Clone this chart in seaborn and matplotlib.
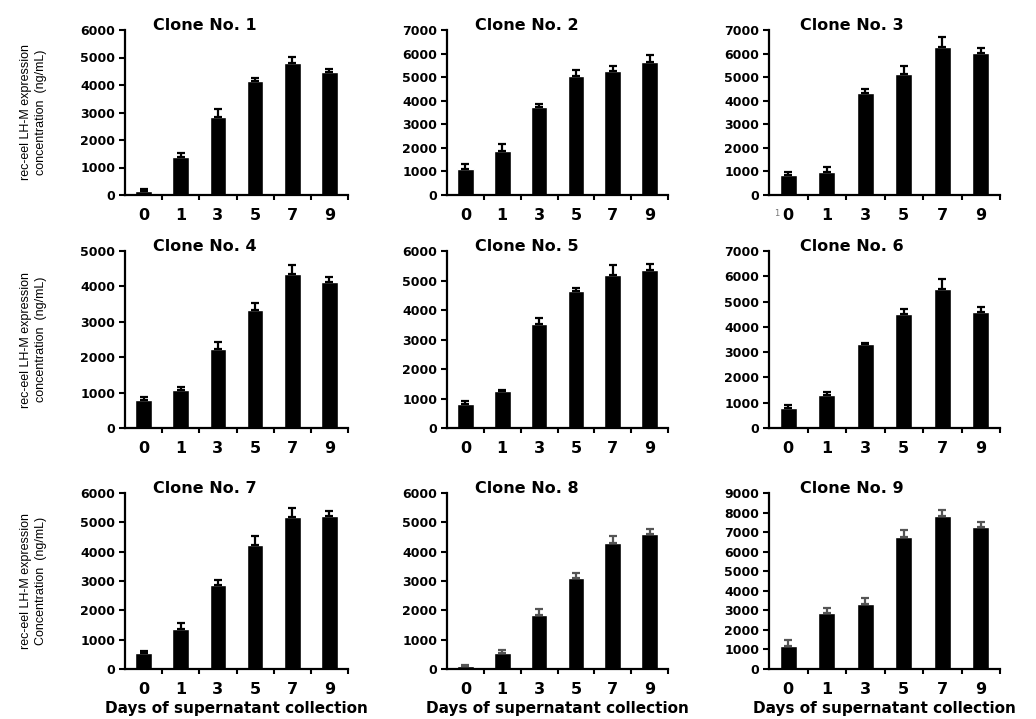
import matplotlib
matplotlib.use('Agg')
import matplotlib.pyplot as plt
import pandas as pd
import numpy as np
import seaborn as sns
import warnings
warnings.filterwarnings('ignore')

# data
days = ['0', '1', '3', '5', '7', '9']
clones = ['Clone No. %d' % i for i in range(1, 10)]

c1_mean = [130, 1400, 2820, 4140, 4810, 4480]
c1_err = [100, 130, 290, 110, 220, 120]
c2_mean = [1110, 1850, 3740, 5040, 5240, 5640]
c2_err = [200, 310, 140, 280, 230, 300]
c3_mean = [850, 990, 4310, 5130, 6290, 6010]
c3_err = [140, 180, 180, 340, 400, 210]
c4_mean = [800, 1085, 2245, 3320, 4340, 4130]
c4_err = [80, 75, 180, 220, 260, 140]
c5_mean = [830, 1240, 3520, 4630, 5200, 5350]
c5_err = [70, 50, 200, 130, 310, 200]
c6_mean = [790, 1300, 3310, 4520, 5500, 4570]
c6_err = [110, 130, 50, 190, 400, 210]
c7_mean = [540, 1370, 2870, 4240, 5170, 5230]
c7_err = [90, 200, 180, 290, 330, 160]
c8_mean = [110, 540, 1830, 3110, 4300, 4590]
c8_err = [40, 110, 230, 170, 230, 190]
c9_mean = [1190, 2840, 3340, 6740, 7810, 7270]
c9_err = [300, 300, 300, 390, 340, 250]

means = [c1_mean, c2_mean, c3_mean, c4_mean, c5_mean, c6_mean, c7_mean, c8_mean, c9_mean]
errs = [c1_err, c2_err, c3_err, c4_err, c5_err, c6_err, c7_err, c8_err, c9_err]
ymax = [6000, 7000, 7000, 5000, 6000, 7000, 6000, 6000, 9000]

ylabels = ['rec-eel LH-M expression\nconcentration  (ng/mL)',
           'rec-eel LH-M expression\nconcentration  (ng/mL)',
           'rec-eel LH-M expression\nConcentration  (ng/mL)']
xlabel = 'Days of supernatant collection'

sns.set_style('ticks')
plt.rcParams['font.family'] = ['DejaVu Sans']
plt.rcParams['text.color'] = 'black'
plt.rcParams['axes.labelcolor'] = 'black'
plt.rcParams['xtick.color'] = 'black'
plt.rcParams['ytick.color'] = 'black'

W, H = 1036, 719
fig = plt.figure(figsize=(W / 100, H / 100), dpi=100)

col_lr = [(125, 348), (447, 668), (769, 1000)]
row_tb = [(30, 195), (251, 428), (493, 669)]

for i in range(9):
    r, c = divmod(i, 3)
    l, rr = col_lr[c]
    t, b = row_tb[r]
    ax = fig.add_axes([l / W, 1 - b / H, (rr - l) / W, (b - t) / H])

    df = pd.DataFrame({'day': days, 'value': means[i]})
    sns.barplot(data=df, x='day', y='value', color='black', width=0.45,
                saturation=1, errorbar=None, ax=ax)
    ecol = '#555555' if i >= 7 else 'black'
    ax.errorbar(np.arange(len(days)), means[i],
                yerr=[np.zeros(len(days)), errs[i]],
                fmt='none', ecolor=ecol, elinewidth=1.6, capsize=3, capthick=1.6)

    ax.set_xlim(-0.5, len(days) - 0.5)
    ax.set_ylim(0, ymax[i])
    ax.set_yticks(np.arange(0, ymax[i] + 1, 1000))
    ax.set_xticks(np.arange(len(days)))
    ax.set_xticklabels(days)
    ax.set_xticks(np.arange(len(days)) + 0.5, minor=True)
    ax.tick_params(axis='x', which='major', length=0, pad=9, labelsize=11.5)
    ax.tick_params(axis='x', which='minor', length=3.5, width=1.5, direction='out', color='black')
    ax.tick_params(axis='y', length=4, width=1.5, direction='out', labelsize=9, pad=3, color='black')
    for lab in ax.get_xticklabels() + ax.get_yticklabels():
        lab.set_fontweight('bold')

    for s in ['top', 'right']:
        ax.spines[s].set_visible(False)
    for s in ['left', 'bottom']:
        ax.spines[s].set_linewidth(1.6)
        ax.spines[s].set_color('black')

    ax.text(0.36, 1.0 + (5 / (b - t)), clones[i], transform=ax.transAxes,
            ha='center', va='center', fontsize=11.5, fontweight='bold')

    if c == 0:
        ax.set_ylabel(ylabels[r], fontsize=9, family=['Liberation Sans', 'DejaVu Sans'],
                      linespacing=1.3)
        ax.yaxis.set_label_coords(-0.35, 0.5)
    else:
        ax.set_ylabel('')

    if r == 2:
        ax.set_xlabel(xlabel, fontsize=11, fontweight='bold', labelpad=3)
    else:
        ax.set_xlabel('')

    if i == 2:
        ax.text(-0.3, -0.11, '1', transform=ax.get_xaxis_transform(),
                ha='center', va='center', fontsize=6, color='#777777')

fig.savefig('out.png', dpi=100)
